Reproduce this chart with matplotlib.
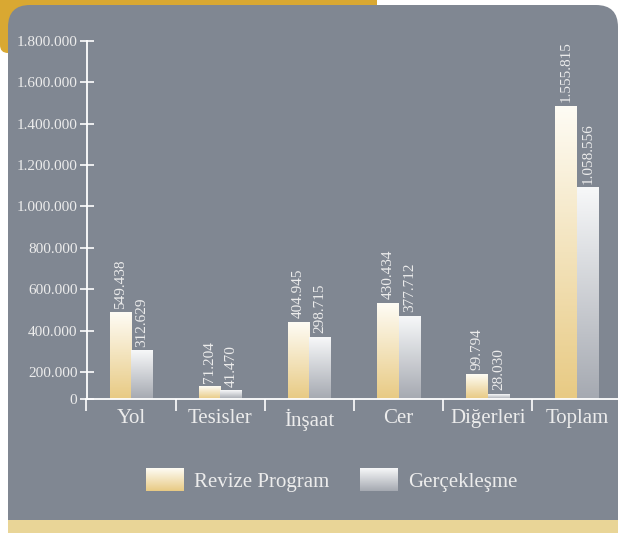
import numpy as np
import matplotlib
matplotlib.use("Agg")
import matplotlib.pyplot as plt
from matplotlib.patches import FancyBboxPatch, Rectangle, Patch
from matplotlib.colors import LinearSegmentedColormap, Normalize
from matplotlib.legend_handler import HandlerBase
from matplotlib.image import BboxImage
from matplotlib.transforms import Bbox, TransformedBbox

plt.rcParams['font.family'] = ['Liberation Serif', 'DejaVu Serif']

categories = ['Yol', 'Tesisler', 'İnşaat', 'Cer', 'Diğerleri', 'Toplam']
revize_values = [549438, 71204, 404945, 430434, 99794, 1555815]
gercek_values = [312629, 41470, 298715, 377712, 28030, 1058556]
# bar heights as they are drawn in the picture
revize_bars = [490000, 92000, 443000, 534000, 187000, 1485000]
gercek_bars = [303000, 60000, 370000, 472000, 37000, 1091000]
y_ticks = [0, 200000, 400000, 600000, 800000, 1000000, 1200000, 1400000, 1600000, 1800000]
series_names = ['Revize Program', 'Gerçekleşme']

PANEL = '#808792'
TXT = '#ececec'
gold_cmap = LinearSegmentedColormap.from_list('gold', ['#e8ca83', '#fefcf5'])
gray_cmap = LinearSegmentedColormap.from_list('gray', ['#a5a9b1', '#f7f8f9'])
grad = np.linspace(1, 0, 256).reshape(-1, 1)

# the first 200.000 step of the axis is drawn shorter than the others
LOW = 0.644


def fwd(v):
    v = np.asarray(v, dtype=float)
    return np.where(v < 2e5, v / 2e5 * LOW, LOW + (v - 2e5) / 2e5)


def inv(u):
    u = np.asarray(u, dtype=float)
    return np.where(u < LOW, u / LOW * 2e5, 2e5 + (u - LOW) * 2e5)


def fmt(v):
    return f"{v:,}".replace(",", ".")


class GradientHandler(HandlerBase):
    def __init__(self, cmap):
        super().__init__()
        self.cmap = cmap

    def create_artists(self, legend, orig_handle, xdescent, ydescent,
                       width, height, fontsize, trans):
        bb = TransformedBbox(Bbox.from_bounds(-xdescent, -ydescent, width, height), trans)
        img = BboxImage(bb, cmap=self.cmap, norm=Normalize(0, 1), interpolation='bilinear')
        img.set_data(grad)
        return [img]


fig = plt.figure(figsize=(6.18, 5.33), dpi=100, facecolor='white')

# background decoration in pixel coordinates
bg = fig.add_axes([0, 0, 1, 1], zorder=0)
bg.set_xlim(0, 618)
bg.set_ylim(533, 0)
bg.axis('off')
bg.add_patch(FancyBboxPatch((0, -20), 377, 73, boxstyle='round,pad=0,rounding_size=8',
                            fc='#d9a832', ec='none'))
bg.add_patch(FancyBboxPatch((8, 5), 610, 560, boxstyle='round,pad=0,rounding_size=22',
                            fc=PANEL, ec='none'))
bg.add_patch(Rectangle((8, 520), 612, 20, fc='#e9d597', ec='none'))

ax = fig.add_axes([86.5 / 618, 134.3 / 533, 531.5 / 618, 358 / 533], zorder=1)
ax.set_facecolor('none')
ax.set_yscale('function', functions=(fwd, inv))
ax.set_xlim(-0.5, 5.46)
ax.set_ylim(0, 1800000)

x = np.arange(len(categories))
w = 0.241
b1 = ax.bar(x - w / 2, revize_bars, w, color='#f3e6c2', edgecolor='none', zorder=1)
b2 = ax.bar(x + w / 2, gercek_bars, w, color='#d6d8dc', edgecolor='none', zorder=1)

to_axes = ax.transScale + ax.transLimits
for bars, cmap in [(b1, gold_cmap), (b2, gray_cmap)]:
    for r in bars:
        x0, y0 = to_axes.transform((r.get_x(), r.get_y()))
        x1, y1 = to_axes.transform((r.get_x() + r.get_width(), r.get_y() + r.get_height()))
        ax.imshow(grad, extent=(x0, x1, y0, y1), transform=ax.transAxes, cmap=cmap,
                  vmin=0, vmax=1, aspect='auto', interpolation='bilinear', zorder=2)

for bars, vals in [(b1, revize_values), (b2, gercek_values)]:
    for r, v in zip(bars, vals):
        ax.annotate(fmt(v), (r.get_x() + r.get_width() / 2, r.get_height()),
                    xytext=(0, 2.5), textcoords='offset points', rotation=90,
                    ha='center', va='bottom', fontsize=11, color=TXT, zorder=3)

for s in ['top', 'right']:
    ax.spines[s].set_visible(False)
for s in ['left', 'bottom']:
    ax.spines[s].set_color('white')
    ax.spines[s].set_linewidth(1.3)

ax.set_yticks(y_ticks)
ax.set_yticklabels([fmt(v) for v in y_ticks])
ax.yaxis.set_minor_locator(matplotlib.ticker.NullLocator())
ax.tick_params(axis='y', direction='inout', length=10, width=1.2, color='white',
               labelsize=11, labelcolor=TXT, pad=1.5)

ax.set_xticks(x)
ax.set_xticklabels(categories)
ax.set_xticks(np.arange(-0.5, len(categories) - 0.5, 1), minor=True)
ax.tick_params(axis='x', which='major', length=0, labelsize=15, labelcolor=TXT, pad=7.5)
ax.tick_params(axis='x', which='minor', direction='out', length=8.5, width=1.2, color='white')

h1 = Patch(label=series_names[0])
h2 = Patch(label=series_names[1])
fig.legend(handles=[h1, h2], loc='center', bbox_to_anchor=(0.537, 0.098), ncol=2,
           frameon=False, fontsize=15, labelcolor=TXT, handlelength=1.78,
           handleheight=1.25, handletextpad=0.5, columnspacing=1.5,
           handler_map={h1: GradientHandler(gold_cmap), h2: GradientHandler(gray_cmap)})

fig.savefig('out.png', dpi=100, facecolor=fig.get_facecolor())
